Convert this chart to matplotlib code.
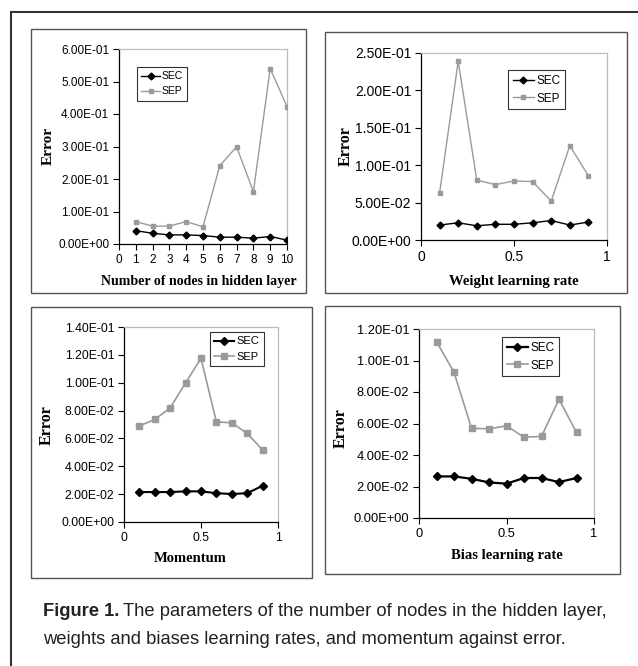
import matplotlib
matplotlib.use("Agg")
import matplotlib.pyplot as plt
from matplotlib.patches import Rectangle
from matplotlib.lines import Line2D

# ---- data ----
nodes = [1, 2, 3, 4, 5, 6, 7, 8, 9, 10]
nodes_sec = [0.041, 0.033, 0.028, 0.028, 0.026, 0.021, 0.021, 0.018, 0.023, 0.012]
nodes_sep = [0.069, 0.055, 0.055, 0.069, 0.053, 0.241, 0.299, 0.161, 0.540, 0.423]

rate = [0.1, 0.2, 0.3, 0.4, 0.5, 0.6, 0.7, 0.8, 0.9]
weight_sec = [0.020, 0.023, 0.019, 0.021, 0.021, 0.023, 0.026, 0.020, 0.024]
weight_sep = [0.063, 0.239, 0.080, 0.074, 0.079, 0.078, 0.052, 0.126, 0.086]

momentum_sec = [0.0215, 0.0215, 0.0215, 0.022, 0.022, 0.0207, 0.0201, 0.0207, 0.026]
momentum_sep = [0.069, 0.0736, 0.0819, 0.100, 0.1175, 0.0719, 0.0712, 0.0636, 0.0517]

bias_sec = [0.0264, 0.0264, 0.0249, 0.0226, 0.0218, 0.0254, 0.0254, 0.0228, 0.0254]
bias_sep = [0.112, 0.0925, 0.057, 0.0566, 0.0585, 0.0513, 0.0518, 0.0754, 0.0543]

caption_bold = "Figure 1."
caption_1 = "The parameters of the number of nodes in the hidden layer,"
caption_2 = "weights and biases learning rates, and momentum against error."

W, H = 638, 666
SANS = ["Liberation Sans", "DejaVu Sans"]
SERIF = ["Liberation Serif", "DejaVu Serif"]
SEP_GREY = "#9a9a9a"


def fx(px):
    return px / W


def fy(py):
    return 1 - py / H


def sci(v):
    return "%.2E" % v


fig = plt.figure(figsize=(W / 100, H / 100), dpi=100)
fig.patch.set_facecolor("white")

# outer frame (left and top only)
fig.add_artist(Line2D([fx(11), fx(11)], [fy(12), fy(666)], color="#333333", lw=1.5))
fig.add_artist(Line2D([fx(11), fx(638)], [fy(12), fy(12)], color="#333333", lw=1.5))

panels = [
    dict(box=(31, 29, 306, 293), ax=(119, 49, 287, 244), x=nodes, sec=nodes_sec, sep=nodes_sep,
         ylim=0.6, ystep=0.1, xlim=(0, 10), xticks=list(range(0, 11)), xfmt="%d",
         fs=8.5, lab_fs=10, xlabel="Number of nodes in hidden layer",
         ylab_pos=(48, 146), xlab_pos=(199, 282), leg=(137, 67), leg_fs=7.5,
         lw_sec=1.0, lw_sep=1.0, ms=4.5),
    dict(box=(325, 32, 627, 293), ax=(421, 53, 607, 240), x=rate, sec=weight_sec, sep=weight_sep,
         ylim=0.25, ystep=0.05, xlim=(0, 1), xticks=[0, 0.5, 1], xfmt="%g",
         fs=10, lab_fs=10.5, xlabel="Weight learning rate",
         ylab_pos=(346, 146), xlab_pos=(514, 282), leg=(508, 70), leg_fs=8.5,
         lw_sec=1.0, lw_sep=1.0, ms=4.5),
    dict(box=(31, 307, 312, 578), ax=(124, 327, 278, 522), x=rate, sec=momentum_sec, sep=momentum_sep,
         ylim=0.14, ystep=0.02, xlim=(0, 1), xticks=[0, 0.5, 1], xfmt="%g",
         fs=8.8, lab_fs=10.5, xlabel="Momentum",
         ylab_pos=(47, 425), xlab_pos=(190, 558), leg=(210, 332), leg_fs=8,
         lw_sec=1.5, lw_sep=1.2, ms=5),
    dict(box=(325, 306, 620, 574), ax=(419, 329, 594, 518), x=rate, sec=bias_sec, sep=bias_sep,
         ylim=0.12, ystep=0.02, xlim=(0, 1), xticks=[0, 0.5, 1], xfmt="%g",
         fs=9.3, lab_fs=10.5, xlabel="Bias learning rate",
         ylab_pos=(341, 428), xlab_pos=(507, 556), leg=(502, 337), leg_fs=8.5,
         lw_sec=1.6, lw_sep=1.2, ms=5.5),
]

for p in panels:
    x0, y0, x1, y1 = p["box"]
    fig.add_artist(Rectangle((fx(x0), fy(y1)), fx(x1) - fx(x0), fy(y0) - fy(y1),
                             fill=False, edgecolor="#555555", lw=1.0, transform=fig.transFigure))

    a0, b0, a1, b1 = p["ax"]
    ax = fig.add_axes([fx(a0), fy(b1), fx(a1) - fx(a0), fy(b0) - fy(b1)])
    ax.plot(p["x"], p["sep"], color=SEP_GREY, lw=p["lw_sep"], marker="s", ms=p["ms"] - 1,
            mfc=SEP_GREY, mec=SEP_GREY, label="SEP", zorder=3)
    ax.plot(p["x"], p["sec"], color="black", lw=p["lw_sec"], marker="D", ms=p["ms"] - 1,
            mfc="black", mec="black", label="SEC", zorder=4)

    ax.set_xlim(*p["xlim"])
    ax.set_ylim(0, p["ylim"])
    n = int(round(p["ylim"] / p["ystep"]))
    yt = [p["ystep"] * i for i in range(n + 1)]
    ax.set_yticks(yt)
    ax.set_yticklabels([sci(v) for v in yt])
    ax.set_xticks(p["xticks"])
    ax.set_xticklabels([p["xfmt"] % v for v in p["xticks"]])
    ax.tick_params(axis="both", direction="out", length=4, width=0.8, labelsize=p["fs"], pad=3)
    for lab in ax.get_xticklabels() + ax.get_yticklabels():
        lab.set_family(SANS)
    ax.spines["left"].set_color("black")
    ax.spines["bottom"].set_color("black")
    ax.spines["top"].set_color("#bbbbbb")
    ax.spines["right"].set_color("#bbbbbb")
    for s in ax.spines.values():
        s.set_linewidth(0.9)

    fig.text(fx(p["ylab_pos"][0]), fy(p["ylab_pos"][1]), "Error", rotation=90,
             ha="center", va="center", family=SERIF, weight="bold", fontsize=p["lab_fs"] + 1)
    fig.text(fx(p["xlab_pos"][0]), fy(p["xlab_pos"][1]), p["xlabel"],
             ha="center", va="center", family=SERIF, weight="bold", fontsize=p["lab_fs"])

    h_sep, h_sec = ax.get_legend_handles_labels()[0]
    leg = ax.legend([h_sec, h_sep], ["SEC", "SEP"], loc="upper left",
                    bbox_to_anchor=(fx(p["leg"][0]), fy(p["leg"][1])), bbox_transform=fig.transFigure,
                    prop={"family": SANS, "size": p["leg_fs"]}, frameon=True, fancybox=False,
                    edgecolor="black", borderpad=0.4, handlelength=1.8, handletextpad=0.2,
                    labelspacing=0.5, borderaxespad=0)
    leg.get_frame().set_linewidth(0.8)

# caption: fit the first line between x=43 and x=612
cap_font = SANS
cap_fs = 14
t1 = fig.text(fx(43), fy(612), caption_bold, ha="left", va="center", family=cap_font,
              weight="bold", fontsize=cap_fs, color="#222222")
t2 = fig.text(0, fy(612), caption_1, ha="left", va="center", family=cap_font,
              fontsize=cap_fs, color="#222222")
fig.canvas.draw()
w_total = t1.get_window_extent().width + t2.get_window_extent().width + 5
cap_fs = cap_fs * (612 - 43) / w_total
t1.set_fontsize(cap_fs)
t2.set_fontsize(cap_fs)
fig.canvas.draw()
t2.set_x((t1.get_window_extent().x1 + 4) / W)
fig.text(fx(43), fy(640), caption_2, ha="left", va="center", family=cap_font,
         fontsize=cap_fs, color="#222222")

fig.savefig("out.png", dpi=100)
